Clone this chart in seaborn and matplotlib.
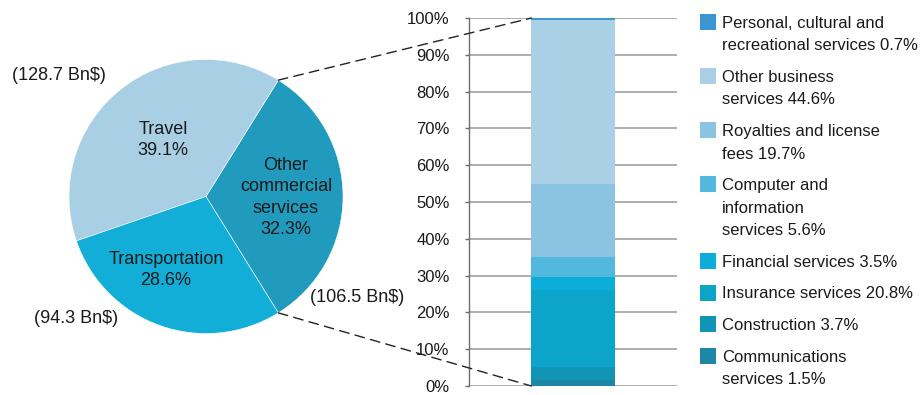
import matplotlib
matplotlib.use("Agg")
import matplotlib.pyplot as plt
from matplotlib.patches import ConnectionPatch, Rectangle
import numpy as np
import pandas as pd
import seaborn as sns

# ---------------- data ----------------
pie_labels = ["Other\ncommercial\nservices", "Travel", "Transportation"]
pie_shares = [32.3, 39.1, 28.6]
pie_values = ["(106.5 Bn$)", "(128.7 Bn$)", "(94.3 Bn$)"]
pie_colors = ["#219BBD", "#A8CFE3", "#13AED8"]

bar_categories = ["Communications\nservices", "Construction", "Insurance services",
                  "Financial services", "Computer and\ninformation\nservices",
                  "Royalties and license\nfees", "Other business\nservices",
                  "Personal, cultural and\nrecreational services"]
bar_shares = [1.5, 3.7, 20.8, 3.5, 5.6, 19.7, 44.6, 0.7]
bar_colors = ["#1E87A3", "#1194B6", "#0CA4C8", "#0CADD8", "#53B8DE",
              "#8AC4E2", "#A9D0E4", "#3B95D1"]
legend_text = ["Communications\nservices 1.5%", "Construction 3.7%",
               "Insurance services 20.8%", "Financial services 3.5%",
               "Computer and\ninformation\nservices 5.6%",
               "Royalties and license\nfees 19.7%",
               "Other business\nservices 44.6%",
               "Personal, cultural and\nrecreational services 0.7%"]
ytick_vals = [0, 10, 20, 30, 40, 50, 60, 70, 80, 90, 100]
ytick_labels = ["0%", "10%", "20%", "30%", "40%", "50%", "60%", "70%", "80%", "90%", "100%"]

# ---------------- style ----------------
sns.set_theme(style="white")
plt.rcParams["font.family"] = ["Liberation Sans", "DejaVu Sans"]
FS = 12
PFS = 13
TXT = "#1a1a1a"

W, H = 921, 395
fig = plt.figure(figsize=(W / 100, H / 100), dpi=100)

def fx(px):
    return px / W

def fy(py):
    return 1 - py / H

# ---------------- pie ----------------
cx, cy, R = 206, 196.5, 137
ax_pie = fig.add_axes([fx(cx - R), fy(cy + R), 2 * R / W, 2 * R / H])
half = pie_shares[0] * 3.6 / 2
ax_pie.pie(pie_shares, colors=pie_colors, startangle=-half, counterclock=True,
           radius=1, wedgeprops=dict(linewidth=0.4, edgecolor="white"))
ax_pie.set_xlim(-1, 1)
ax_pie.set_ylim(-1, 1)
ax_pie.set_aspect("equal")
ax_pie.axis("off")

inner_pos = [(0.584, -0.007), (-0.314, 0.412), (-0.292, -0.536)]
outer_pos = [(1.106, -0.734), (-1.077, 0.88), (-0.945, -0.887)]
for lab, sh, val, ip, op in zip(pie_labels, pie_shares, pie_values, inner_pos, outer_pos):
    ax_pie.text(ip[0], ip[1], f"{lab}\n{sh:.1f}%", ha="center", va="center",
                fontsize=PFS, color=TXT, linespacing=1.35)
    ax_pie.text(op[0], op[1], val, ha="center", va="center", fontsize=PFS,
                color=TXT, clip_on=False)

# ---------------- stacked bar ----------------
ax_bar = fig.add_axes([fx(469), fy(386), fx(677) - fx(469), fy(18) - fy(386)])
cum = np.cumsum(bar_shares)
df = pd.DataFrame({"group": [""] * len(cum), "top": cum, "color": bar_colors})
for i in range(len(cum) - 1, -1, -1):
    sns.barplot(x=[""], y=[df["top"].iloc[i]], color=df["color"].iloc[i],
                saturation=1, width=0.4, linewidth=0, ax=ax_bar, zorder=3)
ax_bar.set_xlim(-0.5, 0.5)
ax_bar.set_ylim(0, 100)
ax_bar.set_yticks(ytick_vals)
ax_bar.set_yticklabels(ytick_labels, fontsize=FS, color=TXT)
ax_bar.set_xticks([])
ax_bar.set_xlabel("")
ax_bar.set_ylabel("")
ax_bar.grid(axis="y", color="#A8A8A8", linewidth=1.3, zorder=0)
ax_bar.set_axisbelow(True)
for s in ["top", "right", "bottom"]:
    ax_bar.spines[s].set_visible(False)
ax_bar.spines["left"].set_color("#6e6e6e")
ax_bar.spines["left"].set_linewidth(1.0)
ax_bar.tick_params(axis="y", direction="out", length=3, width=1, color="#6e6e6e",
                   pad=11, left=True)
ax_bar.set_facecolor("none")

# ---------------- connector lines ----------------
t = np.deg2rad(half)
bar_left = -0.2
for sgn, ytgt in [(1, 100), (-1, 0)]:
    con = ConnectionPatch(xyA=(np.cos(t), sgn * np.sin(t)), coordsA=ax_pie.transData,
                          xyB=(bar_left, ytgt), coordsB=ax_bar.transData,
                          color="#222222", linestyle=(0, (7, 4.5)), linewidth=1.0,
                          zorder=10)
    fig.add_artist(con)

# ---------------- legend ----------------
y = 22
line_h, gap = 22.3, 9.5
for txt, col in zip(legend_text[::-1], bar_colors[::-1]):
    lines = txt.split("\n")
    fig.add_artist(Rectangle((fx(700), fy(y + 8)), 16 / W, 16 / H,
                             transform=fig.transFigure, facecolor=col,
                             edgecolor="none"))
    for k, ln in enumerate(lines):
        fig.text(fx(722), fy(y + k * line_h), ln, fontsize=FS, color=TXT,
                 ha="left", va="center_baseline")
    y += len(lines) * line_h + gap

fig.savefig("out.png", dpi=100)
